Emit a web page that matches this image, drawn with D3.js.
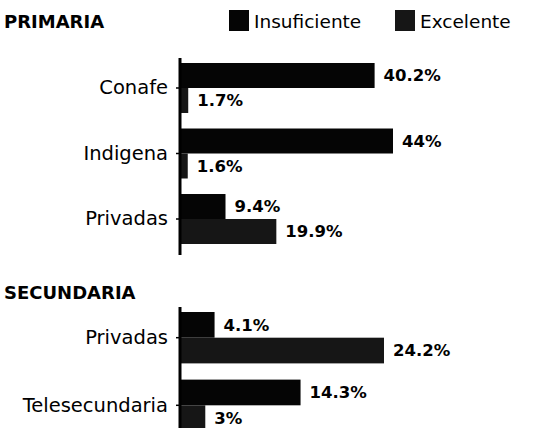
<!DOCTYPE html>
<html>
<head>
<meta charset="utf-8">
<script src="https://cdn.jsdelivr.net/npm/d3@7"></script>
<style>
  body { margin: 0; background: #fff; }
  text { font-family: "DejaVu Sans", sans-serif; fill: #000; }
</style>
</head>
<body>
<svg id="chart"></svg>
<script>
// Data
const seriesNames = ["Insuficiente", "Excelente"];
const seriesColors = ["#050505", "#161616"];

const primariaCats = ["Conafe", "Indigena", "Privadas"];
const primariaInsuficiente = [40.2, 44, 9.4];
const primariaExcelente = [1.7, 1.6, 19.9];

const secundariaCats = ["Privadas", "Telesecundaria"];
const secundariaInsuficiente = [4.1, 14.3];
const secundariaExcelente = [24.2, 3];

const width = 537, height = 428;

const svg = d3.select("#chart")
    .attr("width", width)
    .attr("height", height);

// Draws one block (title + horizontal grouped bars)
function drawPanel(opts) {
  const rows = opts.cats.map(function(c, i) {
    return {cat: c, values: [opts.insuf[i], opts.exc[i]]};
  });

  const x = d3.scaleLinear().domain([0, opts.xMax]).range([180, opts.xEnd]);

  const y = d3.scaleBand()
      .domain(opts.cats)
      .range(opts.yRange)
      .paddingInner(opts.padInner)
      .paddingOuter(0);

  const ySub = d3.scaleBand()
      .domain(seriesNames)
      .range([0, y.bandwidth()]);

  const g = svg.append("g");

  // Title
  g.append("text")
      .attr("x", 4)
      .attr("y", opts.titleY)
      .attr("font-size", 18)
      .attr("font-weight", "bold")
      .text(opts.title);

  // Bars
  const groups = g.selectAll("g.row")
      .data(rows)
      .join("g")
      .attr("class", "row")
      .attr("transform", function(d) { return "translate(0," + y(d.cat) + ")"; });

  groups.selectAll("rect")
      .data(function(d) { return d.values.map(function(v, i) { return {key: seriesNames[i], v: v, i: i}; }); })
      .join("rect")
      .attr("x", x(0))
      .attr("y", function(d) { return ySub(d.key); })
      .attr("width", function(d) { return x(d.v) - x(0); })
      .attr("height", ySub.bandwidth())
      .attr("fill", function(d) { return seriesColors[d.i]; });

  groups.selectAll("text.val")
      .data(function(d) { return d.values.map(function(v, i) { return {key: seriesNames[i], v: v}; }); })
      .join("text")
      .attr("class", "val")
      .attr("x", function(d) { return x(d.v) + 9; })
      .attr("y", function(d) { return ySub(d.key) + ySub.bandwidth() / 2; })
      .attr("dy", "0.36em")
      .attr("font-size", 16.5)
      .attr("font-weight", "bold")
      .text(function(d) { return d.v + "%"; });

  // Category axis
  const axis = g.append("g")
      .attr("transform", "translate(" + x(0) + ",0)")
      .call(d3.axisLeft(y).tickSize(4).tickPadding(8));
  axis.select(".domain").remove();
  axis.selectAll(".tick line").attr("stroke", "#000").attr("stroke-width", 1.5);
  axis.selectAll(".tick text")
      .attr("font-size", 19.5)
      .attr("font-family", "DejaVu Sans, sans-serif")
      .attr("fill", "#000");

  g.append("line")
      .attr("x1", x(0)).attr("x2", x(0))
      .attr("y1", opts.axisY[0]).attr("y2", opts.axisY[1])
      .attr("stroke", "#000")
      .attr("stroke-width", 3);
}

drawPanel({
  title: "PRIMARIA", titleY: 28,
  cats: primariaCats, insuf: primariaInsuficiente, exc: primariaExcelente,
  xMax: 44, xEnd: 393,
  yRange: [63, 244], padInner: 0.237,
  axisY: [58, 255]
});

drawPanel({
  title: "SECUNDARIA", titleY: 299,
  cats: secundariaCats, insuf: secundariaInsuficiente, exc: secundariaExcelente,
  xMax: 24.2, xEnd: 384,
  yRange: [312, 431], padInner: 0.24,
  axisY: [307, 440]
});

// Legend
const legend = svg.append("g");
const legendX = [229, 395];
seriesNames.forEach(function(name, i) {
  legend.append("rect")
      .attr("x", legendX[i]).attr("y", 10)
      .attr("width", 20).attr("height", 21)
      .attr("fill", seriesColors[i]);
  legend.append("text")
      .attr("x", legendX[i] + 25).attr("y", 28)
      .attr("font-size", 18.5)
      .text(name);
});
</script>
</body>
</html>
